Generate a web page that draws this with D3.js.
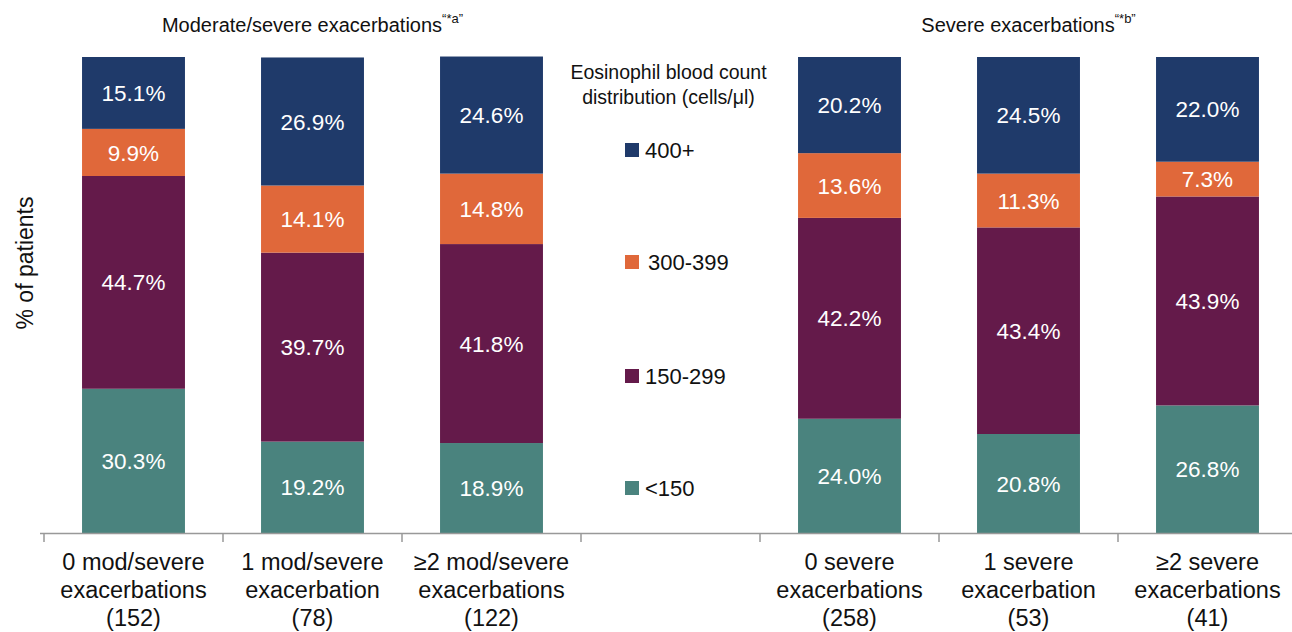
<!DOCTYPE html>
<html><head><meta charset="utf-8">
<script src="https://cdn.jsdelivr.net/npm/d3@7"></script>
<style>body{margin:0;background:#fff}svg{display:block;font-family:"Liberation Sans",Arial,sans-serif}</style>
</head><body><svg id="c" width="1292" height="632"></svg>
<script>
const categories = [
  ["0 mod/severe","exacerbations","(152)"],
  ["1 mod/severe","exacerbation","(78)"],
  ["\u22652 mod/severe","exacerbations","(122)"],
  null,
  ["0 severe","exacerbations","(258)"],
  ["1 severe","exacerbation","(53)"],
  ["\u22652 severe","exacerbations","(41)"]
];
const seriesNames = ["<150","150-299","300-399","400+"];
const lt150   = [30.3, 19.2, 18.9, null, 24.0, 20.8, 26.8];
const s150    = [44.7, 39.7, 41.8, null, 42.2, 43.4, 43.9];
const s300    = [9.9, 14.1, 14.8, null, 13.6, 11.3, 7.3];
const s400    = [15.1, 26.9, 24.6, null, 20.2, 24.5, 22.0];
const seriesValues = [lt150, s150, s300, s400];
const colors = ["#4a837e","#641a4a","#e0683a","#1f3a6a"];
const groupTitles = [{text:"Moderate/severe exacerbations", sup:"\u201C*a\u201D", slots:[0,1,2]},
                     {text:"Severe exacerbations", sup:"\u201C*b\u201D", slots:[4,5,6]}];

const svg = d3.select("#c");
const x = d3.scaleBand().domain(d3.range(categories.length)).range([44, 44+179*7]).paddingInner(0).paddingOuter(0);
const y = d3.scaleLinear().domain([0,100]).range([533, 57]);
const bw = x.bandwidth()*0.575;

// bars
categories.forEach((c,i)=>{
  if(!c) return;
  let acc = 0;
  seriesValues.forEach((s,k)=>{
    const v = s[i];
    const y0 = y(acc), y1 = y(acc+v);
    const cx = x(i)+x.bandwidth()/2;
    svg.append("rect").attr("x", cx-bw/2).attr("y", y1).attr("width", bw).attr("height", y0-y1).attr("fill", colors[k]);
    svg.append("text").attr("x", cx).attr("y", (y0+y1)/2).attr("dy","0.36em").attr("text-anchor","middle")
      .attr("fill","#fff").attr("font-size",22.5).text(v.toFixed(1)+"%");
    acc += v;
  });
});

// axis
svg.append("line").attr("x1",40).attr("x2",1292).attr("y1",533.5).attr("y2",533.5).attr("stroke","#999").attr("stroke-width",1.5);
d3.range(categories.length+1).forEach(i=>{
  const xx = i<categories.length ? x(i) : x(categories.length-1)+x.bandwidth();
  svg.append("line").attr("x1",xx).attr("x2",xx).attr("y1",533).attr("y2",542).attr("stroke","#999").attr("stroke-width",1.5);
});
categories.forEach((c,i)=>{
  if(!c) return;
  const cx = x(i)+x.bandwidth()/2;
  const t = svg.append("text").attr("text-anchor","middle").attr("font-size",23.5).attr("fill","#111");
  c.forEach((line,j)=>t.append("tspan").attr("x",cx).attr("y",570+j*28).text(line));
});

// y label
svg.append("text").attr("transform","translate(33,263) rotate(-90)").attr("text-anchor","middle")
  .attr("font-size",23).attr("fill","#111").text("% of patients");

// group titles
groupTitles.forEach(g=>{
  const x0 = x(g.slots[0]), x1 = x(g.slots[g.slots.length-1])+x.bandwidth();
  const t = svg.append("text").attr("x",(x0+x1)/2).attr("y",32).attr("text-anchor","middle").attr("font-size",20).attr("fill","#111");
  t.append("tspan").text(g.text);
  t.append("tspan").attr("font-size",13).attr("dy",-9).text(g.sup);
});

// legend
const lx = x(3)+x.bandwidth()/2;
const lt = svg.append("text").attr("text-anchor","middle").attr("font-size",19.5).attr("fill","#111");
lt.append("tspan").attr("x",lx-2).attr("y",79).text("Eosinophil blood count");
lt.append("tspan").attr("x",lx-2).attr("y",104).text("distribution (cells/\u03BCl)");
const legY = [488, 376, 262, 150];
seriesNames.forEach((n,k)=>{
  svg.append("rect").attr("x",625).attr("y",legY[k]-7).attr("width",14).attr("height",14).attr("fill",colors[k]);
  svg.append("text").attr("x", k===2?648:645).attr("y",legY[k]).attr("dy","0.36em").attr("font-size",22).attr("fill","#111").text(n);
});
</script></body></html>
